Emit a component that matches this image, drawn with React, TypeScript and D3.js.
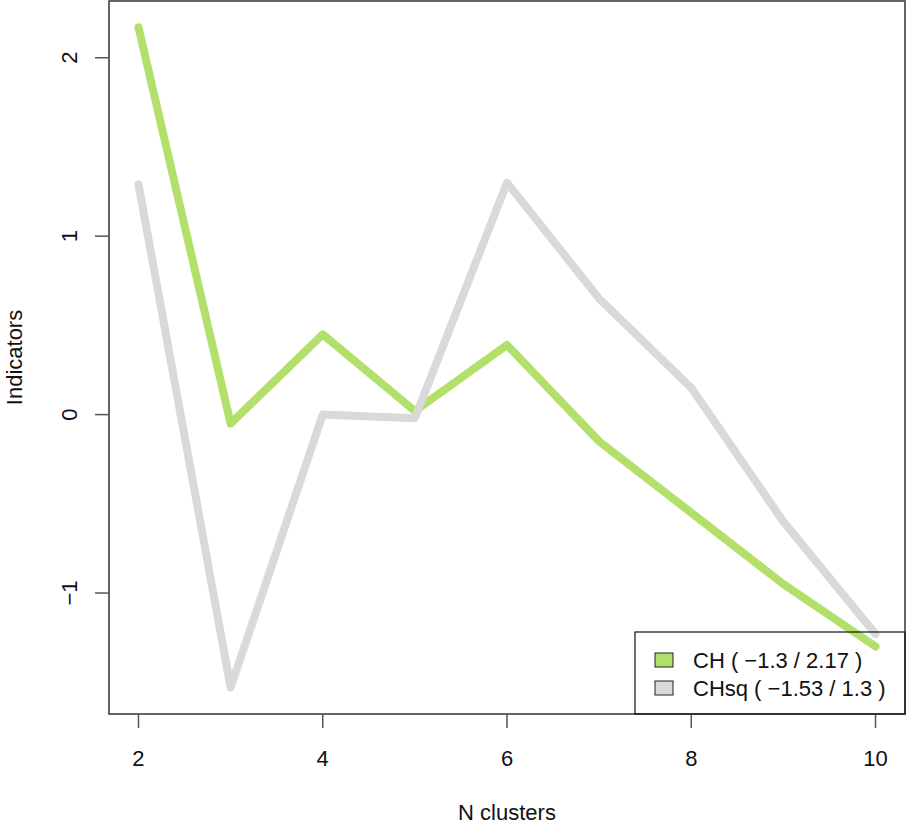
import { useEffect, useRef } from "react";
import * as d3 from "d3";

const clusters = [2, 3, 4, 5, 6, 7, 8, 9, 10];
const chValues = [2.17, -0.05, 0.45, 0.02, 0.39, -0.15, -0.55, -0.95, -1.3];
const chsqValues = [1.29, -1.53, 0.0, -0.02, 1.3, 0.65, 0.15, -0.6, -1.23];
const xTicks = [2, 4, 6, 8, 10];
const yTicks = [-1, 0, 1, 2];
const legendLabels = ["CH ( \u22121.3 / 2.17 )", "CHsq ( \u22121.53 / 1.3 )"];
const seriesColors = ["#b3e06a", "#d9d9d9"];

const width = 907;
const height = 825;
const font = "'Liberation Sans', Arial, sans-serif";
const fontSize = 22;

const App = () => {
  const ref = useRef<SVGSVGElement>(null);

  useEffect(() => {
    const svg = d3.select(ref.current);
    svg.selectAll("*").remove();

    // plot region, R style with 4% padding inside the box
    const left = 109;
    const right = 905;
    const top = 1;
    const bottom = 714;

    const allY = [...chValues, ...chsqValues];
    const yMin = d3.min(allY)!;
    const yMax = d3.max(allY)!;
    const yPad = (yMax - yMin) * 0.04;
    const xPad = (10 - 2) * 0.04;

    const x = d3.scaleLinear().domain([2 - xPad, 10 + xPad]).range([left, right]);
    const y = d3.scaleLinear().domain([yMin - yPad, yMax + yPad]).range([bottom, top]);

    const series = [chValues, chsqValues];

    const line = d3
      .line<number>()
      .x((_, i) => x(clusters[i]))
      .y((d) => y(d));

    series.forEach((vals, i) => {
      svg
        .append("path")
        .datum(vals)
        .attr("fill", "none")
        .attr("stroke", seriesColors[i])
        .attr("stroke-width", 8)
        .attr("stroke-linecap", "round")
        .attr("stroke-linejoin", "round")
        .attr("d", line);
    });

    // box
    svg
      .append("rect")
      .attr("x", left)
      .attr("y", top)
      .attr("width", right - left)
      .attr("height", bottom - top)
      .attr("fill", "none")
      .attr("stroke", "#333")
      .attr("stroke-width", 1.5);

    // x axis
    const xAxis = svg.append("g");
    xTicks.forEach((t) => {
      xAxis
        .append("line")
        .attr("x1", x(t))
        .attr("x2", x(t))
        .attr("y1", bottom)
        .attr("y2", bottom + 14)
        .attr("stroke", "#555")
        .attr("stroke-width", 1.5);
      xAxis
        .append("text")
        .attr("x", x(t))
        .attr("y", 766)
        .attr("text-anchor", "middle")
        .attr("font-family", font)
        .attr("font-size", fontSize)
        .attr("fill", "#111")
        .text(t);
    });

    // y axis
    const yAxis = svg.append("g");
    yTicks.forEach((t) => {
      yAxis
        .append("line")
        .attr("x1", left - 14)
        .attr("x2", left)
        .attr("y1", y(t))
        .attr("y2", y(t))
        .attr("stroke", "#555")
        .attr("stroke-width", 1.5);
      yAxis
        .append("text")
        .attr("transform", `translate(77,${y(t)}) rotate(-90)`)
        .attr("text-anchor", "middle")
        .attr("font-family", font)
        .attr("font-size", fontSize)
        .attr("fill", "#111")
        .text(t === -1 ? "\u22121" : t);
    });

    // axis titles
    svg
      .append("text")
      .attr("x", (left + right) / 2)
      .attr("y", 820)
      .attr("text-anchor", "middle")
      .attr("font-family", font)
      .attr("font-size", fontSize)
      .attr("fill", "#111")
      .text("N clusters");

    svg
      .append("text")
      .attr("transform", `translate(22,${(top + bottom) / 2}) rotate(-90)`)
      .attr("text-anchor", "middle")
      .attr("font-family", font)
      .attr("font-size", fontSize)
      .attr("fill", "#111")
      .text("Indicators");

    // legend (transparent background, like R's default)
    const lg = svg.append("g");
    lg.append("rect")
      .attr("x", 635)
      .attr("y", 632)
      .attr("width", right - 635)
      .attr("height", bottom - 632)
      .attr("fill", "none")
      .attr("stroke", "#111")
      .attr("stroke-width", 1.2);

    legendLabels.forEach((lab, i) => {
      const cy = 660 + i * 28;
      lg.append("rect")
        .attr("x", 655)
        .attr("y", cy - 7)
        .attr("width", 18)
        .attr("height", 14)
        .attr("fill", seriesColors[i])
        .attr("stroke", "#222")
        .attr("stroke-width", 1);
      lg.append("text")
        .attr("x", 693)
        .attr("y", cy + 8)
        .attr("font-family", font)
        .attr("font-size", fontSize)
        .attr("fill", "#111")
        .text(lab);
    });
  }, []);

  return (
    <svg
      ref={ref}
      width={width}
      height={height}
      style={{ position: "absolute", left: 0, top: 0, background: "#fff" }}
    />
  );
};

export default App;
